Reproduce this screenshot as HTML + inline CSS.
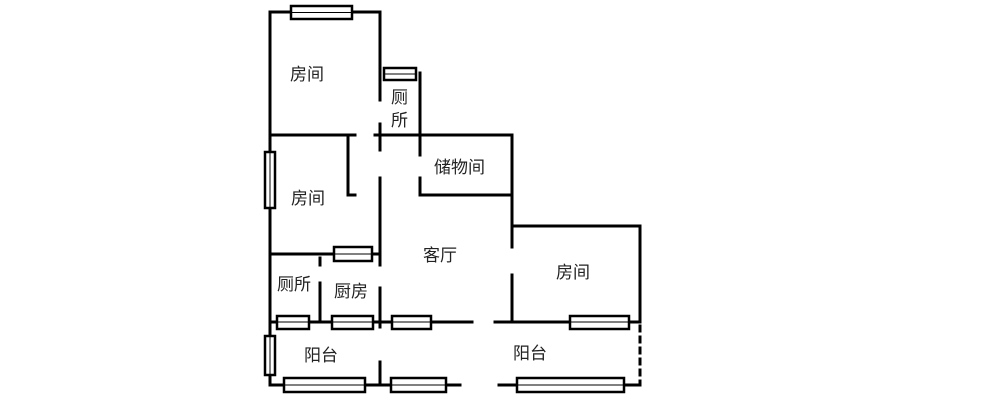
<!DOCTYPE html>
<html><head><style>body{margin:0;background:#fff}svg{display:block}text{font-family:"Liberation Sans","Noto Sans CJK SC",sans-serif;font-size:17px;fill:#222}</style></head><body>
<svg width="1000" height="411" viewBox="0 0 1000 411">
<g stroke="#000" stroke-width="3" fill="none" stroke-linecap="square">
<path d="M270 12H380V100M380 124V150M380 178V265M380 288V327M380 362V385"/>
<path d="M270 12V385H460M499 385H640"/>
<path d="M420 73V155M420 178V195H512M512 135V247M512 275V322M512 226H640V322"/>
<path d="M270 135H355M375 135H512M348 135V195H355"/>
<path d="M270 254H380M320 258V265M320 283V322"/>
<path d="M270 322H472M495 322H640"/>
<path d="M640 326V385" stroke-dasharray="5 6"/>
</g>
<g stroke="#000" stroke-width="2.5" fill="#fff">
<rect x="291" y="6" width="61" height="13"/><line x1="291" y1="12.5" x2="352" y2="12.5" stroke-width="1"/>
<rect x="384" y="68" width="32" height="12"/><line x1="384" y1="74" x2="416" y2="74" stroke-width="1"/>
<rect x="265" y="152" width="10" height="56"/><line x1="270" y1="152" x2="270" y2="208" stroke-width="1"/>
<rect x="334" y="247" width="38" height="14"/><line x1="334" y1="254" x2="372" y2="254" stroke-width="1"/>
<rect x="277" y="316" width="32" height="13"/><line x1="277" y1="322" x2="309" y2="322" stroke-width="1"/>
<rect x="332" y="316" width="41" height="13"/><line x1="332" y1="322" x2="373" y2="322" stroke-width="1"/>
<rect x="392" y="316" width="39" height="13"/><line x1="392" y1="322" x2="431" y2="322" stroke-width="1"/>
<rect x="570" y="316" width="59" height="13"/><line x1="570" y1="322" x2="629" y2="322" stroke-width="1"/>
<rect x="265" y="336" width="10" height="39"/><line x1="270" y1="336" x2="270" y2="375" stroke-width="1"/>
<rect x="284" y="378" width="81" height="14"/><line x1="284" y1="385" x2="365" y2="385" stroke-width="1"/>
<rect x="391" y="378" width="55" height="14"/><line x1="391" y1="385" x2="446" y2="385" stroke-width="1"/>
<rect x="517" y="378" width="107" height="14"/><line x1="517" y1="385" x2="624" y2="385" stroke-width="1"/>
</g>
<text x="290" y="80">房间</text>
<text x="391" y="103">厕</text>
<text x="391" y="126">所</text>
<text x="434" y="173">储物间</text>
<text x="291" y="204">房间</text>
<text x="423" y="261">客厅</text>
<text x="556" y="278">房间</text>
<text x="277" y="290">厕所</text>
<text x="334" y="297">厨房</text>
<text x="304" y="361">阳台</text>
<text x="513" y="359">阳台</text>
</svg>
</body></html>
